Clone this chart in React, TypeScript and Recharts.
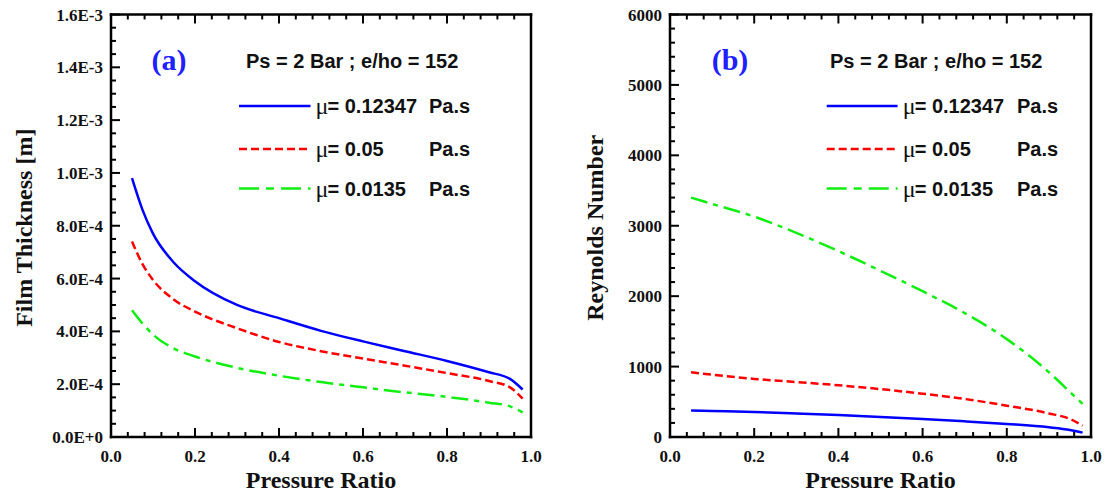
import React from 'react';
import { LineChart, Line, XAxis, YAxis, Legend } from 'recharts';

// ---------------- data ----------------
const pressureRatioA = [0.05, 0.075, 0.1, 0.15, 0.2, 0.3, 0.4, 0.5, 0.6, 0.7, 0.8, 0.9, 0.95, 0.98];
const filmMu012347 = [9.8e-4, 8.6e-4, 7.7e-4, 6.6e-4, 5.9e-4, 5.0e-4, 4.5e-4, 4.02e-4, 3.62e-4, 3.25e-4, 2.88e-4, 2.45e-4, 2.2e-4, 1.8e-4];
const filmMu005 = [7.4e-4, 6.55e-4, 5.95e-4, 5.2e-4, 4.75e-4, 4.12e-4, 3.6e-4, 3.25e-4, 2.97e-4, 2.7e-4, 2.42e-4, 2.12e-4, 1.88e-4, 1.45e-4];
const filmMu00135 = [4.8e-4, 4.3e-4, 3.88e-4, 3.35e-4, 3.05e-4, 2.62e-4, 2.32e-4, 2.08e-4, 1.88e-4, 1.69e-4, 1.52e-4, 1.3e-4, 1.16e-4, 0.93e-4];

const pressureRatioB = [0.05, 0.1, 0.2, 0.3, 0.4, 0.5, 0.6, 0.7, 0.8, 0.9, 0.95, 0.98];
const reMu012347 = [378, 370, 355, 335, 312, 285, 255, 222, 185, 138, 100, 62];
const reMu005 = [920, 885, 825, 780, 735, 680, 615, 540, 445, 335, 255, 160];
const reMu00135 = [3400, 3310, 3130, 2900, 2640, 2360, 2070, 1760, 1390, 920, 640, 470];

const viscosityLabels = ['0.12347', '0.05', '0.0135'];
const conditionText = 'Ps = 2 Bar ; e/ho = 152';

// ---------------- ticks ----------------
const xTicks = Array.from({ length: 26 }, (_, i) => (i * 4) / 100);
const xTickLabels = ['0.0', '0.2', '0.4', '0.6', '0.8', '1.0'];
const filmTicks = Array.from({ length: 33 }, (_, i) => i * 0.5e-4);
const filmTickLabels = ['0.0E+0', '2.0E-4', '4.0E-4', '6.0E-4', '8.0E-4', '1.0E-3', '1.2E-3', '1.4E-3', '1.6E-3'];
const reTicks = Array.from({ length: 31 }, (_, i) => i * 200);
const reTickLabels = ['0', '1000', '2000', '3000', '4000', '5000', '6000'];

const SERIF = '"Liberation Serif", "Times New Roman", serif';
const SANS = '"Liberation Sans", Arial, sans-serif';
const INK = '#000000';
const TEXT_INK = '#111111';
const TICK_W = 2;
const FRAME_W = 2.5;

const seriesStyles = [
  { key: 'mu1', color: '#0000ff', dash: undefined as string | undefined, legendDash: undefined as string | undefined },
  { key: 'mu2', color: '#ff0000', dash: '8 4', legendDash: '8 4' },
  { key: 'mu3', color: '#11ee11', dash: '17 6 5 6', legendDash: '20 7 8 7' },
];

const rowsA = pressureRatioA.map((x, i) => ({ x, mu1: filmMu012347[i], mu2: filmMu005[i], mu3: filmMu00135[i] }));
const rowsB = pressureRatioB.map((x, i) => ({ x, mu1: reMu012347[i], mu2: reMu005[i], mu3: reMu00135[i] }));

type Side = 'bottom' | 'top' | 'left' | 'right';

// Inward tick marks at the positions that the axis scale gives.
function makeTick(side: Side, step: number, every: number, labels: string[] | null) {
  return function TickMark(props: any) {
    const x = Number(props.x);
    const y = Number(props.y);
    const k = Math.round(props.payload.value / step);
    const major = k % every === 0;
    const len = major ? 9 : 5;
    let x2 = x;
    let y2 = y;
    if (side === 'bottom') y2 = y - len;
    else if (side === 'top') y2 = y + len;
    else if (side === 'left') x2 = x + len;
    else x2 = x - len;
    let text = null;
    if (labels && major) {
      const s = labels[k / every];
      const tprops = { fontFamily: SERIF, fontWeight: 700, fontSize: 17, fill: TEXT_INK };
      if (side === 'bottom')
        text = (
          <text x={x} y={y + 25} textAnchor="middle" {...tprops}>
            {s}
          </text>
        );
      if (side === 'left')
        text = (
          <text x={x - 8} y={y + 6} textAnchor="end" {...tprops}>
            {s}
          </text>
        );
    }
    return (
      <g>
        <line x1={x} y1={y} x2={x2} y2={y2} stroke={INK} strokeWidth={TICK_W} />
        {text}
      </g>
    );
  };
}

interface PanelProps {
  data: any[];
  width: number;
  yAxisWidth: number;
  marginRight: number;
  yDomain: [number, number];
  yTicks: number[];
  yStep: number;
  yEvery: number;
  yLabels: string[];
  yTitle: string;
  yTitleX: number;
  letter: string;
  pos: { letterCx: number; titleX: number; lineX1: number; lineX2: number; muX: number; paX: number };
}

const HEIGHT = 492;
const M_TOP = 13.5;
const M_BOTTOM = 5;
const X_AXIS_H = 50;
const AXIS_LINE = { stroke: INK, strokeWidth: FRAME_W, strokeLinecap: 'square' as const };

function Panel(p: PanelProps) {
  const PL = p.yAxisWidth;
  const rowsY = [106, 149, 188.5];

  const legendContent = (lp: any) => {
    const payload = lp.payload || [];
    return (
      <svg width={p.width} height={HEIGHT} style={{ position: 'absolute', left: 0, top: 0, overflow: 'visible' }}>
        <text x={PL + p.pos.letterCx} y={70} textAnchor="middle" fontFamily={SERIF} fontWeight={700} fontSize={30} fill="#1f1fff">
          {p.letter}
        </text>
        <text x={PL + p.pos.titleX} y={68} fontFamily={SANS} fontWeight={700} fontSize={20} fill={TEXT_INK}>
          {conditionText}
        </text>
        {payload.map((entry: any, i: number) => {
          const st = seriesStyles.find((s) => s.key === entry.dataKey) || seriesStyles[i];
          const idx = seriesStyles.indexOf(st);
          const y = rowsY[idx];
          return (
            <g key={st.key}>
              <line
                x1={PL + p.pos.lineX1}
                x2={PL + p.pos.lineX2}
                y1={y}
                y2={y}
                stroke={st.color}
                strokeWidth={2.5}
                strokeDasharray={st.legendDash}
              />
              <text x={PL + p.pos.muX} y={y + 8} fontFamily={SERIF} fontSize={24} fill={TEXT_INK}>
                μ
              </text>
              <text x={PL + p.pos.muX + 12} y={y + 7} fontFamily={SANS} fontWeight={700} fontSize={20} fill={TEXT_INK}>
                {'= ' + viscosityLabels[idx]}
              </text>
              <text x={PL + p.pos.paX} y={y + 7} fontFamily={SANS} fontWeight={700} fontSize={20} fill={TEXT_INK}>
                Pa.s
              </text>
            </g>
          );
        })}
      </svg>
    );
  };

  return (
    <LineChart
      width={p.width}
      height={HEIGHT}
      data={p.data}
      margin={{ top: M_TOP, right: p.marginRight, bottom: M_BOTTOM, left: 0 }}
    >
      <XAxis
        dataKey="x"
        type="number"
        domain={[0, 1]}
        ticks={xTicks}
        interval={0}
        height={X_AXIS_H}
        tickSize={0}
        tickMargin={0}
        tickLine={false}
        axisLine={AXIS_LINE}
        tick={makeTick('bottom', 0.04, 5, xTickLabels)}
        label={{
          content: (lp: any) => {
            const vb = lp.viewBox;
            return (
              <text x={vb.x + vb.width / 2} y={vb.y + 51} textAnchor="middle" fontFamily={SERIF} fontWeight={700} fontSize={24} fill={TEXT_INK}>
                Pressure Ratio
              </text>
            );
          },
        }}
      />
      <XAxis
        xAxisId="top"
        orientation="top"
        dataKey="x"
        type="number"
        domain={[0, 1]}
        ticks={xTicks}
        interval={0}
        height={1}
        tickSize={0}
        tickMargin={0}
        tickLine={false}
        axisLine={AXIS_LINE}
        tick={makeTick('top', 0.04, 5, null)}
      />
      <YAxis
        type="number"
        domain={p.yDomain}
        ticks={p.yTicks}
        interval={0}
        width={p.yAxisWidth}
        tickSize={0}
        tickMargin={0}
        tickLine={false}
        axisLine={AXIS_LINE}
        tick={makeTick('left', p.yStep, p.yEvery, p.yLabels)}
        label={{
          content: (lp: any) => {
            const vb = lp.viewBox;
            const cx = vb.x + p.yTitleX;
            const cy = vb.y + vb.height / 2 + 2;
            return (
              <text
                x={cx}
                y={cy}
                transform={`rotate(-90 ${cx} ${cy})`}
                textAnchor="middle"
                dominantBaseline="central"
                fontFamily={SERIF}
                fontWeight={700}
                fontSize={24}
                fill={TEXT_INK}
              >
                {p.yTitle}
              </text>
            );
          },
        }}
      />
      <YAxis
        yAxisId="right"
        orientation="right"
        type="number"
        domain={p.yDomain}
        ticks={p.yTicks}
        interval={0}
        width={1}
        tickSize={0}
        tickMargin={0}
        tickLine={false}
        axisLine={AXIS_LINE}
        tick={makeTick('right', p.yStep, p.yEvery, null)}
      />
      {seriesStyles.map((s, i) => (
        <Line
          key={s.key}
          dataKey={s.key}
          name={'μ= ' + viscosityLabels[i] + ' Pa.s'}
          type="monotone"
          stroke={s.color}
          strokeWidth={2.5}
          strokeDasharray={s.dash}
          dot={false}
          activeDot={false}
          isAnimationActive={false}
        />
      ))}
      <Legend
        layout="horizontal"
        verticalAlign="middle"
        align="center"
        content={legendContent}
        wrapperStyle={{ left: 0, top: 0, width: p.width, height: HEIGHT, pointerEvents: 'none' }}
      />
    </LineChart>
  );
}

export default function App() {
  return (
    <div style={{ position: 'absolute', left: 0, top: 0, width: 1105, height: 492, background: '#fff' }}>
      <div style={{ position: 'absolute', left: 0, top: 0 }}>
        <Panel
          data={rowsA}
          width={552}
          yAxisWidth={111}
          marginRight={20}
          yDomain={[0, 1.6e-3]}
          yTicks={filmTicks}
          yStep={0.5e-4}
          yEvery={4}
          yLabels={filmTickLabels}
          yTitle="Film Thickness [m]"
          yTitleX={24}
          letter="(a)"
          pos={{ letterCx: 58, titleX: 135, lineX1: 128, lineX2: 199.5, muX: 204.5, paX: 318 }}
        />
      </div>
      <div style={{ position: 'absolute', left: 552, top: 0 }}>
        <Panel
          data={rowsB}
          width={553}
          yAxisWidth={118}
          marginRight={13}
          yDomain={[0, 6000]}
          yTicks={reTicks}
          yStep={200}
          yEvery={5}
          yLabels={reTickLabels}
          yTitle="Reynolds Number"
          yTitleX={43}
          letter="(b)"
          pos={{ letterCx: 60, titleX: 160, lineX1: 156.7, lineX2: 227.6, muX: 232.7, paX: 347 }}
        />
      </div>
    </div>
  );
}
